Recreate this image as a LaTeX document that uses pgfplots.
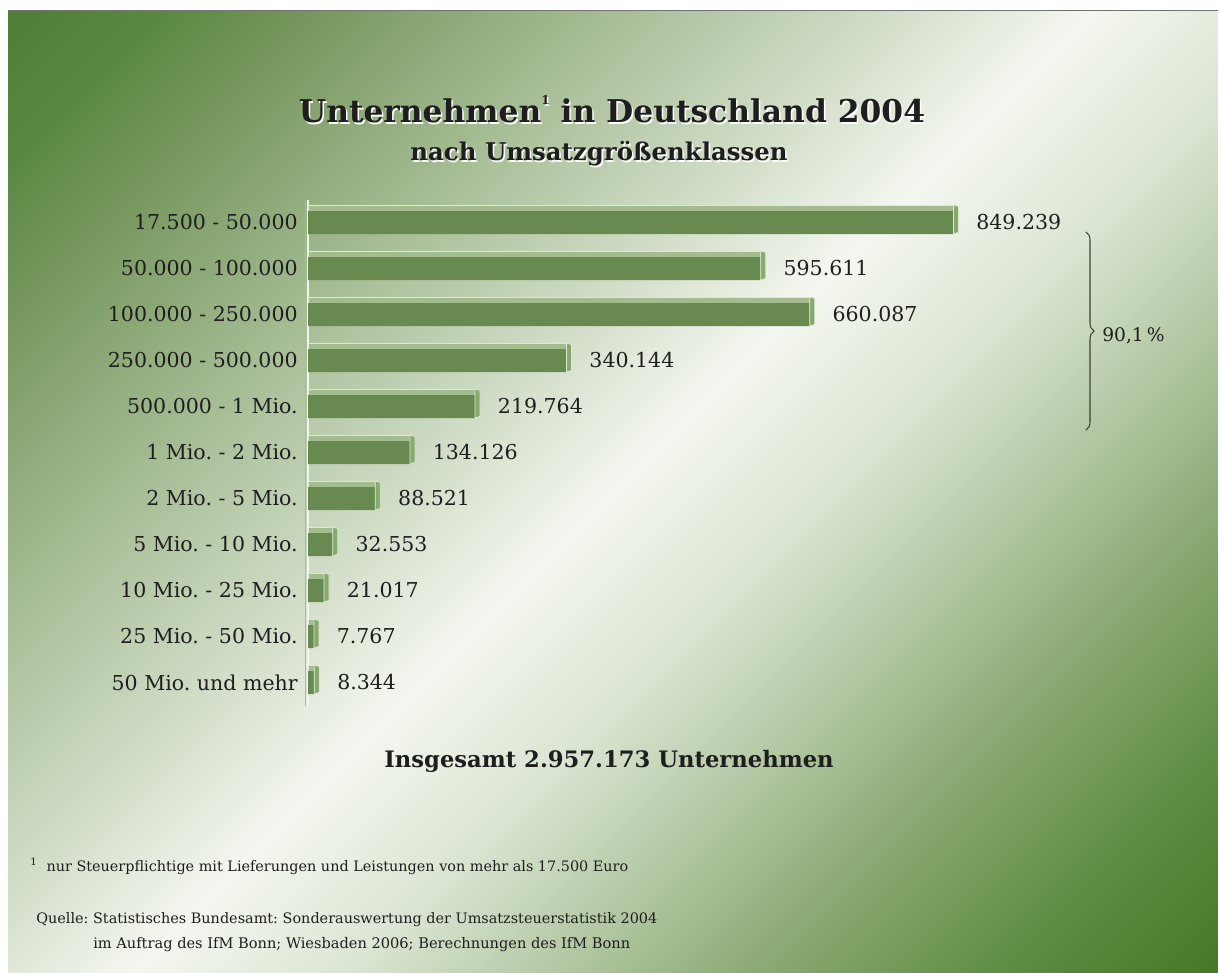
\documentclass[border=0pt]{standalone}
\usepackage{pgfplots}
\pgfplotsset{compat=1.18}
\usepackage{pgfplotstable}
\usepackage{fontspec}
\setmainfont{DejaVu Serif}
\usepackage{graphicx}
\usetikzlibrary{decorations.pathreplacing}
\frenchspacing

\definecolor{bgA}{HTML}{4E7E36}
\definecolor{bgB}{HTML}{5A8843}
\definecolor{bgC}{HTML}{7A9A62}
\definecolor{bgD}{HTML}{A7BD96}
\definecolor{bgE}{HTML}{D0DCC6}
\definecolor{bgF}{HTML}{F4F7F0}
\definecolor{bgG}{HTML}{DBE5D3}
\definecolor{bgH}{HTML}{B2C7A2}
\definecolor{bgK}{HTML}{8FAC78}
\definecolor{bgI}{HTML}{5F8D44}
\definecolor{bgJ}{HTML}{477826}
\definecolor{barfront}{HTML}{688A50}
\definecolor{bartop}{HTML}{A3BC8E}
\definecolor{barcap}{HTML}{88A96C}
\definecolor{txt}{HTML}{1E1E1E}

\pgfdeclareverticalshading{bgshade}{100bp}{%
  color(0bp)=(bgJ); color(14.65bp)=(bgJ); color(21.72bp)=(bgI); color(30.21bp)=(bgK);
  color(36bp)=(bgH); color(43bp)=(bgG); color(50bp)=(bgF); color(57.07bp)=(bgE); color(65.56bp)=(bgD);
  color(74.75bp)=(bgC); color(80.41bp)=(bgB); color(85.36bp)=(bgA); color(100bp)=(bgA)}

\pgfplotstableread{
y v lab
10 849239 849.239
9 595611 595.611
8 660087 660.087
7 340144 340.144
6 219764 219.764
5 134126 134.126
4 88521 88.521
3 32553 32.553
2 21017 21.017
1 7767 7.767
0 8344 8.344
}\datatable

\pgfdeclareplotmark{barcap}{%
  \pgfpathmoveto{\pgfqpoint{0pt}{-8.6pt}}%
  \pgfpathlineto{\pgfqpoint{3.8pt}{-7.4pt}}%
  \pgfpathlineto{\pgfqpoint{3.8pt}{12.0pt}}%
  \pgfpathlineto{\pgfqpoint{0pt}{13.1pt}}%
  \pgfpathclose
  \pgfusepathqfillstroke}

\newcommand{\supone}{\raisebox{0.55em}{\fontsize{9}{9}\selectfont 1}}

\begin{document}
\begin{tikzpicture}
\begin{scope}[x=0.75pt,y=-0.75pt]
\path[use as bounding box] (0,0) rectangle (1218,972);
\shade[shading=bgshade, shading angle=45] (8,10) rectangle (1218,972);
\draw[black!55, line width=1.2pt] (8,10.5) -- (1218,10.5);
\end{scope}

\begin{axis}[
  at={(231pt,-149.625pt)}, anchor=north west,
  scale only axis, width=570pt, height=379.5pt,
  xmin=0, xmax=1000000, ymin=-0.5, ymax=10.5,
  axis line style={draw=none},
  xtick=\empty,
  ytick={0,...,10},
  yticklabels={50 Mio. und mehr, 25 Mio. - 50 Mio., 10 Mio. - 25 Mio., 5 Mio. - 10 Mio., 2 Mio. - 5 Mio., 1 Mio. - 2 Mio., 500.000 - 1 Mio., 250.000 - 500.000, 100.000 - 250.000, 50.000 - 100.000, 17.500 - 50.000},
  major tick length=0pt,
  yticklabel style={font=\fontsize{15.4}{18}\selectfont, text=txt, inner sep=0pt, xshift=-7.5pt},
  clip=false,
]
% axis line
\draw[black!30, line width=0.6pt] ([xshift=-1.7pt]axis cs:0,-0.5) -- ([xshift=-1.7pt]axis cs:0,10.5);
\draw[white!92!bgA, line width=2.2pt] (axis cs:0,-0.5) -- (axis cs:0,10.5);
% top faces
\addplot[xbar, bar width=4.5pt, bar shift=10.875pt, fill=bartop, draw=white!65!bartop, line width=0.5pt]
  table[x=v, y=y] {\datatable};
% front faces
\addplot[xbar, bar width=17.25pt, bar shift=0pt, fill=barfront, draw=none,
  nodes near coords, point meta=explicit symbolic,
  nodes near coords style={anchor=west, inner sep=0pt, xshift=17pt, font=\fontsize{15.4}{18}\selectfont, text=txt}]
  table[x=v, y=y, meta=lab] {\datatable};
% end caps
\addplot[only marks, mark=barcap, mark options={fill=barcap, draw=white!70!barcap, line width=0.6pt}]
  table[x=v, y=y] {\datatable};
\end{axis}

\begin{scope}[x=0.75pt,y=-0.75pt]
% title
\node[anchor=base, inner sep=0pt, font=\bfseries\fontsize{23.5}{28}\selectfont, text=white] at (613.5,124) {Unternehmen\supone\ in Deutschland 2004};
\node[anchor=base, inner sep=0pt, font=\bfseries\fontsize{23.5}{28}\selectfont, text=txt] at (612,122) {Unternehmen\supone\ in Deutschland 2004};
\node[anchor=base, inner sep=0pt, font=\bfseries\fontsize{18.3}{22}\selectfont, text=white] at (600.5,162) {nach Umsatzgrößenklassen};
\node[anchor=base, inner sep=0pt, font=\bfseries\fontsize{18.3}{22}\selectfont, text=txt] at (599,160) {nach Umsatzgrößenklassen};
% brace
\draw[black!75, line width=0.8pt, decorate, decoration={brace, amplitude=6pt}] (1086,232) -- (1086,430);
\node[anchor=west, inner sep=0pt, font=\fontsize{14}{16}\selectfont, text=txt] at (1102,336) {90,1\,\%};
% total
\node[anchor=base, inner sep=0pt, font=\bfseries\fontsize{17}{20}\selectfont, text=txt] at (609,767) {Insgesamt 2.957.173 Unternehmen};
% footnotes
\node[anchor=base west, inner sep=0pt, text=txt] at (30,871) {\resizebox{448.5pt}{!}{\fontsize{10}{12}\selectfont\textsuperscript{1}\ \ nur Steuerpflichtige mit Lieferungen und Leistungen von mehr als 17.500 Euro}};
\node[anchor=base west, inner sep=0pt, text=txt] at (36,923) {\resizebox{465.75pt}{!}{\fontsize{10}{12}\selectfont Quelle:\ Statistisches Bundesamt: Sonderauswertung der Umsatzsteuerstatistik 2004}};
\node[anchor=base west, inner sep=0pt, text=txt] at (93,948) {\resizebox{402.75pt}{!}{\fontsize{10}{12}\selectfont im Auftrag des IfM Bonn; Wiesbaden 2006; Berechnungen des IfM Bonn}};
\end{scope}
\end{tikzpicture}
\end{document}
